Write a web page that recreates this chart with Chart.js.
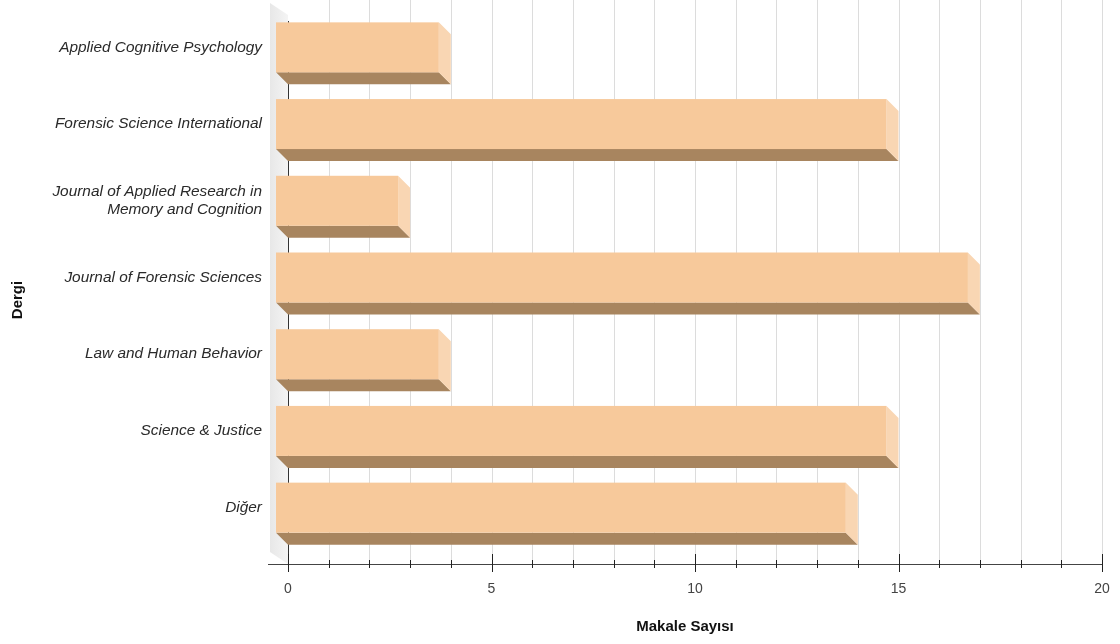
<!DOCTYPE html>
<html>
<head>
<meta charset="utf-8">
<style>
  html, body { margin: 0; padding: 0; background: #fff; }
  #wrap { width: 1120px; height: 644px; }
</style>
<script src="https://cdn.jsdelivr.net/npm/chart.js@4.4.1/dist/chart.umd.min.js"></script>
</head>
<body>
<div id="wrap"><canvas id="chart"></canvas></div>
<script>
const journals = [
  'Applied Cognitive Psychology',
  'Forensic Science International',
  ['Journal of Applied Research in', 'Memory and Cognition'],
  'Journal of Forensic Sciences',
  'Law and Human Behavior',
  'Science & Justice',
  'Diğer'
];
const articleCounts = [4, 15, 3, 17, 4, 15, 14];
const xMajorTicks = [0, 5, 10, 15, 20];
const xTitle = 'Makale Sayısı';
const yTitle = 'Dergi';

const FONT = 'Liberation Sans, Arial, sans-serif';
const DEPTH = 12;          // offset of the front face (px, up and left)
const WALL = 20;           // width of the left wall strip
const FRONT = '#f7c99b';
const SIDE = '#f9d6b3';
const BOTTOM = '#a8855f';

// fake-3D boxes, back wall, grid and axis lines
const box3d = {
  id: 'box3d',
  beforeDatasetsDraw(chart) {
    const { ctx, chartArea: a, scales: { x } } = chart;
    const axisY = a.bottom + 6;
    ctx.save();

    // left wall
    const g = ctx.createLinearGradient(a.left - WALL, 0, a.left, 0);
    g.addColorStop(0, '#e6e6e6');
    g.addColorStop(1, '#f4f4f4');
    ctx.fillStyle = g;
    ctx.beginPath();
    ctx.moveTo(a.left - 18, 3);
    ctx.lineTo(a.left, 15);
    ctx.lineTo(a.left, axisY);
    ctx.lineTo(a.left - 18, axisY - 12);
    ctx.closePath();
    ctx.fill();

    // vertical grid lines, one per unit
    ctx.strokeStyle = '#dcdcdc';
    ctx.lineWidth = 1;
    x.ticks.forEach(t => {
      if (t.value === 0) return;
      const px = Math.round(x.getPixelForValue(t.value)) + 0.5;
      ctx.beginPath();
      ctx.moveTo(px, 0);
      ctx.lineTo(px, axisY);
      ctx.stroke();
    });

    // y axis line at the back
    const x0 = Math.round(x.getPixelForValue(0)) + 0.5;
    ctx.strokeStyle = '#333';
    ctx.beginPath();
    ctx.moveTo(x0, a.top);
    ctx.lineTo(x0, axisY + 8);
    ctx.stroke();

    // x axis line + tick marks
    ctx.strokeStyle = '#444';
    ctx.beginPath();
    ctx.moveTo(a.left - WALL, axisY + 0.5);
    ctx.lineTo(a.right, axisY + 0.5);
    ctx.stroke();
    ctx.strokeStyle = '#222';
    x.ticks.forEach(t => {
      const px = Math.round(x.getPixelForValue(t.value)) + 0.5;
      const major = xMajorTicks.includes(t.value);
      ctx.beginPath();
      ctx.moveTo(px, major ? axisY - 10 : axisY - 4);
      ctx.lineTo(px, major ? axisY + 8 : axisY + 4);
      ctx.stroke();
    });
    ctx.restore();
  },
  afterDatasetsDraw(chart) {
    const { ctx } = chart;
    const d = DEPTH;
    chart.getDatasetMeta(0).data.forEach(bar => {
      const p = bar.getProps(['x', 'y', 'base', 'height'], true);
      const L = p.base, R = p.x;
      const T = p.y - p.height / 2, B = p.y + p.height / 2;
      ctx.save();
      // bottom face
      ctx.fillStyle = BOTTOM;
      ctx.beginPath();
      ctx.moveTo(L - d, B - d);
      ctx.lineTo(R - d, B - d);
      ctx.lineTo(R, B);
      ctx.lineTo(L, B);
      ctx.closePath();
      ctx.fill();
      // right face
      ctx.fillStyle = SIDE;
      ctx.beginPath();
      ctx.moveTo(R - d, T - d);
      ctx.lineTo(R, T);
      ctx.lineTo(R, B);
      ctx.lineTo(R - d, B - d);
      ctx.closePath();
      ctx.fill();
      // front face
      ctx.fillStyle = FRONT;
      ctx.fillRect(L - d, T - d, R - L, B - T);
      ctx.restore();
    });
  },
  afterDraw(chart) {
    const { ctx, chartArea: a } = chart;
    ctx.save();
    ctx.font = 'bold 15px ' + FONT;
    ctx.fillStyle = '#111';
    ctx.textAlign = 'center';
    ctx.textBaseline = 'middle';
    // x axis title, centred under the whole axis line (wall included)
    ctx.fillText(xTitle, (a.left - WALL + a.right) / 2, 627);
    // y axis title, rotated
    ctx.translate(18, 300);
    ctx.rotate(-Math.PI / 2);
    ctx.fillText(yTitle, 0, 0);
    ctx.restore();
  }
};

new Chart(document.getElementById('chart'), {
  type: 'bar',
  data: {
    labels: journals,
    datasets: [{
      label: xTitle,
      data: articleCounts,
      backgroundColor: 'rgba(0,0,0,0)',
      borderWidth: 0,
      barThickness: 50
    }]
  },
  options: {
    indexAxis: 'y',
    responsive: true,
    maintainAspectRatio: false,
    animation: false,
    layout: { padding: { top: 21, right: 18, bottom: 0, left: 0 } },
    plugins: {
      legend: { display: false },
      tooltip: { enabled: false }
    },
    scales: {
      x: {
        min: 0,
        max: 20,
        grid: { display: false },
        border: { display: false },
        ticks: {
          stepSize: 1,
          autoSkip: false,
          maxRotation: 0,
          padding: 15,
          color: '#444',
          font: { family: FONT, size: 14 },
          callback: v => xMajorTicks.includes(v) ? String(v) : ''
        },
        afterFit: s => {
          s.height = 86;
          s.paddingLeft = 0;
          s.paddingRight = 0;
        }
      },
      y: {
        grid: { display: false },
        border: { display: false },
        ticks: {
          padding: 18,
          labelOffset: -DEPTH,
          color: '#2a2a2a',
          font: { family: FONT, size: 15.4, style: 'italic' }
        },
        afterFit: s => {
          s.width = 288;
          s.paddingTop = 0;
          s.paddingBottom = 0;
        }
      }
    }
  },
  plugins: [box3d]
});
</script>
</body>
</html>
